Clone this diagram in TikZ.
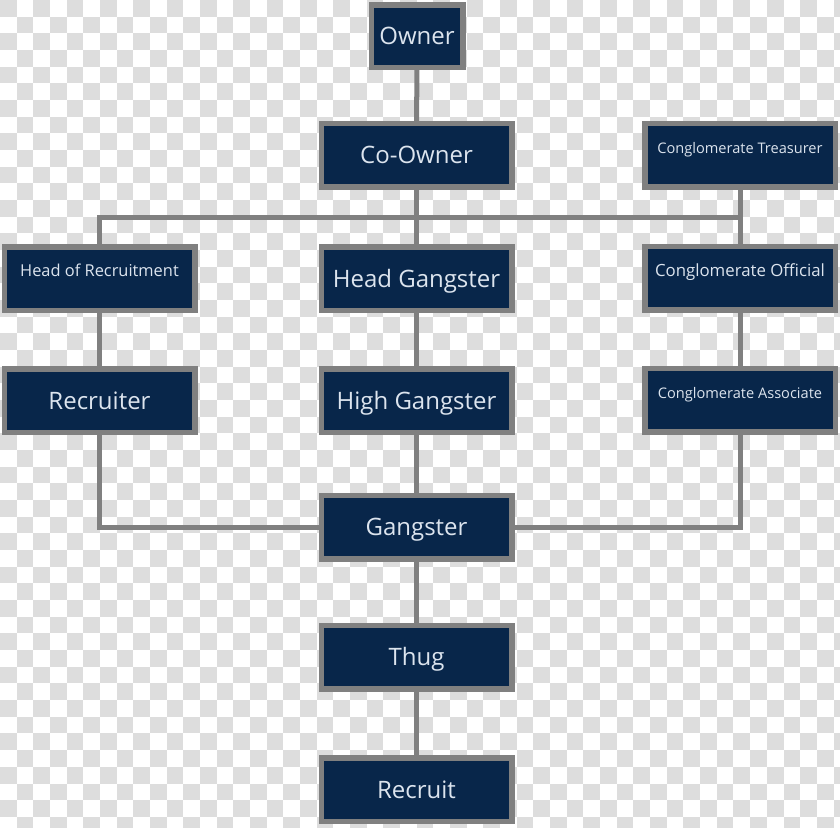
\documentclass[tikz,border=0pt]{standalone}
\usepackage{fontspec}
\setmainfont{Open Sans}
\definecolor{navy}{HTML}{08264A}
\definecolor{edge}{HTML}{808080}
\definecolor{txt}{HTML}{DCE4EE}
\definecolor{chk}{HTML}{DDDDDD}
\pgfdeclarelayer{grid}
\pgfdeclarelayer{wires}
\pgfsetlayers{grid,wires,main}
\tikzset{
  box/.style={draw=edge, fill=navy, line width=5.5pt, minimum width=190.5pt,
    minimum height=63.5pt, inner sep=0pt, outer sep=0pt, text=txt},
  bigbox/.style={box, font=\fontsize{24}{28}\selectfont, text height=18pt, text depth=1pt},
  smallbox/.style={box, font=\fontsize{16.4}{19}\selectfont, text height=12pt, text depth=16pt},
  tinybox/.style={smallbox, font=\fontsize{14.6}{18}\selectfont}
}
\tikzset{wire/.style={draw=edge, line width=5pt}}
\begin{document}
\begin{tikzpicture}[x=1pt,y=-1pt]
\useasboundingbox (0,0) rectangle (840,827);
\begin{pgfonlayer}{grid}
  \fill[white] (0,0) rectangle (840,827);
  \begin{scope}
    \clip (0,0) rectangle (840,827);
    \foreach \i in {0,...,50}{
      \foreach \j in {0,...,49}{
        \pgfmathtruncatemacro{\chkpar}{mod(\i+\j,2)}
        \ifnum\chkpar=0
          \fill[chk] (\i*16.67,\j*16.67) rectangle ++(16.67,16.67);
        \fi
      }
    }
  \end{scope}
\end{pgfonlayer}

\node[bigbox, minimum width=91.5pt, minimum height=62.5pt] (owner) at (417,36) {Owner};
\node[bigbox] (coowner) at (416.5,155) {Co-Owner};
\node[tinybox] (treas) at (740,155) {Conglomerate Treasurer};
\node[smallbox] (headrec) at (99.5,278.5) {Head of Recruitment};
\node[bigbox] (headgang) at (416.5,278.5) {Head Gangster};
\node[smallbox, font=\fontsize{16.8}{19}\selectfont] (official) at (740,278) {Conglomerate Official};
\node[bigbox] (recruiter) at (99.5,400.5) {Recruiter};
\node[bigbox] (highgang) at (416.5,400.5) {High Gangster};
\node[tinybox] (assoc) at (740,400) {Conglomerate Associate};
\node[bigbox] (gangster) at (416.5,527) {Gangster};
\node[bigbox] (thug) at (416.5,657) {Thug};
\node[bigbox] (recruit) at (416.5,789.5) {Recruit};
\coordinate (bus) at (0,217);

\begin{pgfonlayer}{wires}
  \draw[wire] (owner) -- (coowner);
  \draw[wire] (coowner) -- (headgang);
  \draw[wire] (headrec.north) |- (bus -| treas.south);
  \draw[wire] (treas) -- (official);
  \draw[wire] (headrec) -- (recruiter);
  \draw[wire] (official) -- (assoc);
  \draw[wire] (headgang) -- (highgang);
  \draw[wire] (highgang) -- (gangster);
  \draw[wire] (gangster) -- (thug);
  \draw[wire] (thug) -- (recruit);
  \draw[wire] (recruiter.south) |- (gangster.west);
  \draw[wire] (assoc.south) |- (gangster.east);
\end{pgfonlayer}
\end{tikzpicture}
\end{document}
